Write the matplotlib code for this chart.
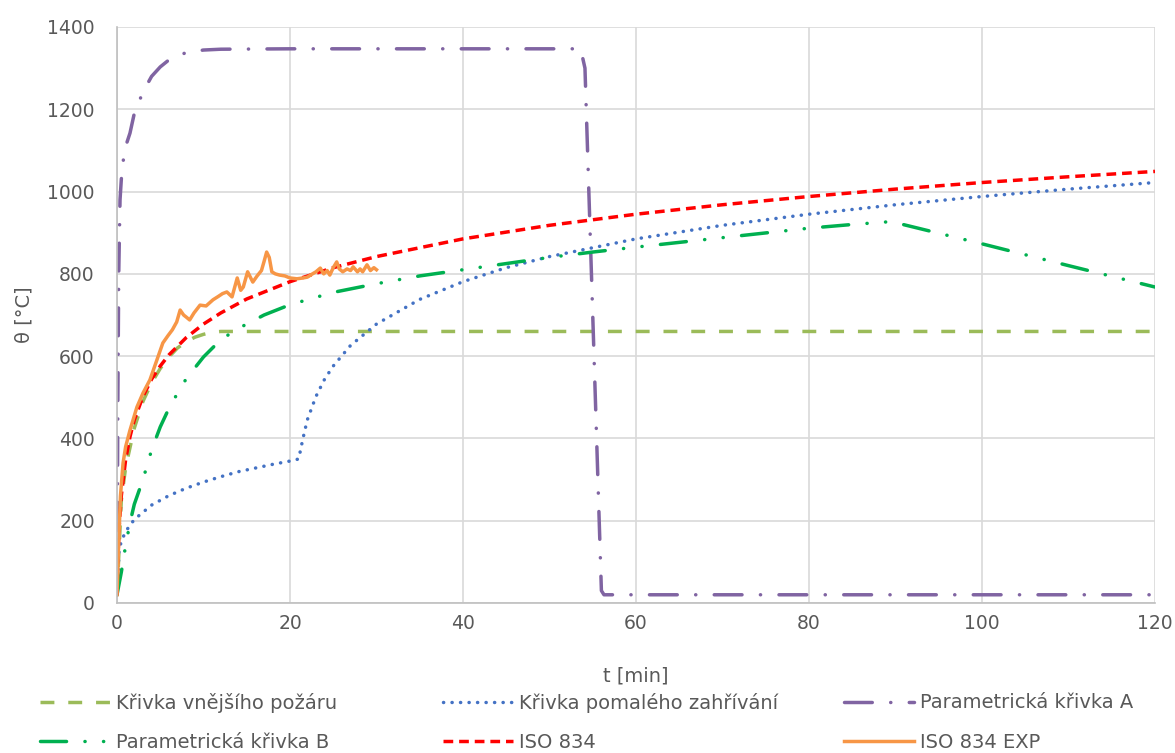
import numpy as np
import matplotlib.pyplot as plt

# --- data ---
t_ext = [0, 0.5, 1, 2, 3, 4, 5, 6, 7, 8, 9, 10, 11, 12, 15, 20, 40, 60, 80, 100, 120]
ext = [20, 250, 330, 425, 490, 535, 570, 598, 620, 635, 646, 653, 658, 660, 660, 660, 660, 660, 660, 660, 660]

t_slow = [0, 0.25, 0.5, 1, 2, 4, 6, 8, 10, 12, 14, 16, 18, 20, 21, 21.5, 22, 23, 24, 25, 27,
          30, 35, 40, 45, 50, 60, 70, 80, 90, 100, 110, 120]
slow = [20, 130, 150, 174, 203, 238, 261, 279, 294, 307, 319, 328, 337, 345, 350, 400, 445, 502,
        544, 576, 626, 678, 738, 781, 815, 842, 885, 918, 945, 968, 988, 1006, 1022]

t_parA = [0, 0.1, 0.2, 0.35, 0.5, 0.75, 1, 1.5, 2, 3, 4, 5, 6, 8, 10, 12, 20, 40, 53.6, 54.1,
          56.0, 56.3, 60, 80, 100, 120]
parA = [20, 500, 800, 980, 1030, 1080, 1110, 1142, 1190, 1242, 1280, 1303, 1320, 1338, 1344,
        1346, 1347, 1347, 1347, 1300, 30, 20, 20, 20, 20, 20]

t_parB = [0, 0.5, 1, 1.5, 2, 3, 4, 5, 6, 7, 8, 10, 12, 14, 17, 20, 25, 30, 35, 40, 45, 50, 55,
          60, 70, 80, 85, 89.5, 100, 110, 120]
parB = [20, 75, 140, 195, 240, 300, 372, 428, 473, 510, 545, 598, 640, 667, 700, 725, 755, 776,
        795, 810, 825, 840, 853, 865, 888, 911, 920, 927, 873, 820, 768]

t_iso = [0, 0.1, 0.25, 0.5, 1, 1.5, 2, 3, 4, 5, 6, 8, 10, 12, 15, 20, 25, 30, 40, 50, 60, 70,
         80, 90, 100, 110, 120]
iso = [20, 106, 185, 261, 349, 404, 445, 502, 544, 576, 603, 645, 678, 705, 739, 781, 815, 842,
       885, 918, 945, 968, 988, 1006, 1022, 1036, 1049]

t_exp = [0, 0.2, 0.4, 0.7, 1, 1.5, 2.3, 3.0, 3.8, 4.7, 5.3, 5.9, 6.4, 6.9, 7.3, 7.7, 8.0, 8.4,
         8.9, 9.6, 10.3, 11.1, 11.7, 12.2, 12.7, 13.3, 13.9, 14.3, 14.6, 15.1, 15.7, 16.2,
         16.7, 17.0, 17.3, 17.6, 17.9, 18.3, 18.8, 19.4, 20.0, 20.8, 21.5, 22.0, 22.6, 23.0,
         23.5, 23.9, 24.3, 24.6, 25.0, 25.4, 25.7, 26.1, 26.6, 27.0, 27.3, 27.8, 28.1, 28.4,
         28.9, 29.3, 29.7, 30.0]
exp = [20, 150, 260, 340, 380, 420, 476, 510, 542, 596, 632, 650, 664, 683, 712, 700, 695, 688,
       705, 724, 722, 737, 745, 752, 756, 744, 790, 760, 768, 805, 780, 795, 808, 830, 853, 840,
       805, 800, 797, 795, 790, 788, 790, 792, 800, 805, 814, 800, 808, 797, 815, 829, 812, 805,
       812, 808, 817, 805, 812, 805, 822, 808, 815, 810]

labels = ["Křivka vnějšího požáru", "Křivka pomalého zahřívání", "Parametrická křivka A",
          "Parametrická křivka B", "ISO 834", "ISO 834 EXP"]

plt.rcParams['font.family'] = ['DejaVu Sans']

fig = plt.figure(figsize=(11.75, 7.53), dpi=100)
ax = fig.add_axes([117 / 1175, 1 - 603 / 753, (1155 - 117) / 1175, (603 - 27) / 753])

lw = 2.5
l_ext, = ax.plot(t_ext, ext, color="#9BBB59", lw=lw, linestyle=(0, (4, 4)), label=labels[0])
l_slow, = ax.plot(t_slow, slow, color="#4472C4", lw=lw, linestyle=(0, (0.05, 2.4)),
                  dash_capstyle="round", label=labels[1])
l_parA, = ax.plot(t_parA, parA, color="#8064A2", lw=lw, linestyle=(0, (8, 5.3, 0.05, 5.3)),
                  dash_capstyle="round", label=labels[2])
l_parB, = ax.plot(t_parB, parB, color="#00B050", lw=lw,
                  linestyle=(0, (7.5, 5.3, 0.05, 5.3, 0.05, 5.3)),
                  dash_capstyle="round", label=labels[3])
l_iso, = ax.plot(t_iso, iso, color="#FF0000", lw=lw, linestyle=(0, (2.8, 1.7)), label=labels[4])
l_exp, = ax.plot(t_exp, exp, color="#F79646", lw=lw, label=labels[5])

ax.set_xlim(0, 120)
ax.set_ylim(0, 1400)
ax.set_xticks(np.arange(0, 121, 20))
ax.set_yticks(np.arange(0, 1401, 200))
ax.grid(True, color="#D9D9D9", lw=1.2)
ax.set_axisbelow(True)
for s in ["top", "right"]:
    ax.spines[s].set_visible(False)
for s in ["left", "bottom"]:
    ax.spines[s].set_color("#BFBFBF")
    ax.spines[s].set_linewidth(1.2)
ax.tick_params(length=0, labelsize=13.5, colors="#595959")
ax.tick_params(axis="x", pad=8)
ax.tick_params(axis="y", pad=16)

ax.set_xlabel("t [min]", fontsize=14, color="#595959", labelpad=24)
ax.set_ylabel("θ [°C]", fontsize=14, color="#595959", labelpad=10)

# legend entries placed one by one on a 3x2 grid, like the reference
entries = [l_ext, l_slow, l_parA, l_parB, l_iso, l_exp]
col_x = [40, 443, 844]
row_y = [703, 742]
for i, h in enumerate(entries):
    x = col_x[i % 3]
    y = row_y[i // 3]
    fig.legend(handles=[h], labels=[h.get_label()],
               loc="center left", bbox_to_anchor=(x / 1175, 1 - y / 753),
               frameon=False, fontsize=14, labelcolor="#595959", borderpad=0,
               handlelength=3.6, handletextpad=0.3, borderaxespad=0.0)

fig.savefig("out.png", dpi=100)
